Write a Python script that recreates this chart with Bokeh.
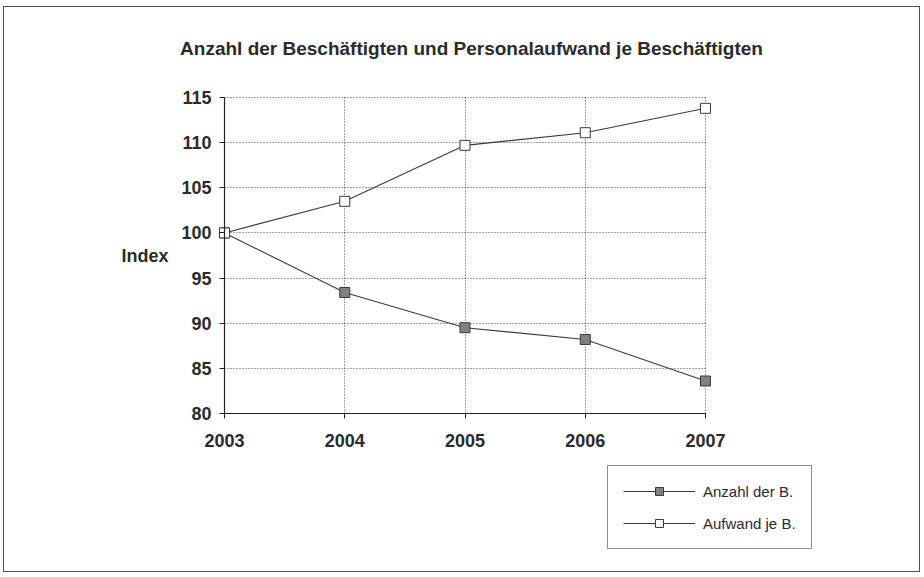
from bokeh.plotting import figure
from bokeh.layouts import column
from bokeh.models import Range1d, Legend, LegendItem, FixedTicker, Label, Grid
from bokeh.embed import file_html
from bokeh.resources import INLINE

# Index values (2003 = 100)
years = [2003, 2004, 2005, 2006, 2007]
anzahl = [100.0, 93.4, 89.5, 88.2, 83.6]
aufwand = [100.0, 103.5, 109.7, 111.1, 113.8]
y_ticks = [80, 85, 90, 95, 100, 105, 110, 115]
title_text = "Anzahl der Beschäftigten und Personalaufwand je Beschäftigten"
series_names = ["Anzahl der B.", "Aufwand je B."]

FONT = "Liberation Sans"
TEXT = "#2b2b2b"
LINE = "#3a3a3a"
AXIS = "#222222"

# ---- chart: a wide frame, y axis pinned to the first year ----
p = figure(
    width=915, height=452,
    x_range=Range1d(2002.1268, 2008.7796),
    y_range=Range1d(78.7816, 124.968),
    output_backend="svg", toolbar_location=None,
    min_border_left=115, min_border_right=0,
    min_border_top=0, min_border_bottom=35,
    background_fill_color="white", border_fill_color="white",
)
p.outline_line_color = None

# x axis labels and ticks (the ticks reach up to the 80 line)
xa = p.xaxis[0]
xa.ticker = FixedTicker(ticks=years)
xa.bounds = (2003, 2007)
xa.axis_line_color = None
xa.major_tick_line_color = AXIS
xa.major_tick_in = 11
xa.major_tick_out = -6
xa.minor_tick_line_color = None
xa.major_label_standoff = 9
xa.major_label_text_font = FONT
xa.major_label_text_font_style = "bold"
xa.major_label_text_font_size = "18px"
xa.major_label_text_color = TEXT

# y axis drawn at 2003
ya = p.yaxis[0]
ya.fixed_location = 2003
ya.ticker = FixedTicker(ticks=y_ticks)
ya.bounds = (80, 115)
ya.axis_line_color = AXIS
ya.axis_line_width = 1.2
ya.major_tick_line_color = AXIS
ya.major_tick_in = 0
ya.major_tick_out = 5
ya.minor_tick_line_color = None
ya.major_label_standoff = 8
ya.major_label_text_font = FONT
ya.major_label_text_font_style = "bold"
ya.major_label_text_font_size = "18px"
ya.major_label_text_color = TEXT
ya.axis_label = "Index"
ya.axis_label_orientation = "horizontal"
ya.axis_label_text_font = FONT
ya.axis_label_text_font_style = "bold"
ya.axis_label_text_font_size = "18px"
ya.axis_label_text_color = TEXT
ya.axis_label_standoff = 10

# dotted grid limited to the data area
xg, yg = p.xgrid[0], p.ygrid[0]
xg.ticker = FixedTicker(ticks=years)
xg.cross_bounds = (80, 115)
yg.ticker = FixedTicker(ticks=y_ticks[1:])
yg.cross_bounds = (2003, 2007)
for g in (xg, yg):
    g.grid_line_color = "#444444"
    g.grid_line_dash = "1 2"
    g.grid_line_width = 1

# solid base line at the lowest tick
p.add_layout(Grid(dimension=1, ticker=FixedTicker(ticks=y_ticks[:1]),
                  cross_bounds=(2003, 2007), grid_line_color=AXIS,
                  grid_line_width=1.2))

# series
def draw_series(fig, ys, fill):
    ln = fig.line(years, ys, line_color=LINE, line_width=1.1)
    mk = fig.scatter(years, ys, marker="square", size=10,
                     fill_color=fill, line_color="#3a3a3a", line_width=1)
    return [ln, mk]

draw_series(p, anzahl, "#808080")
draw_series(p, aufwand, "white")

# chart title
p.add_layout(Label(
    x=2005.054, y=120.43, text=title_text,
    text_font=FONT, text_font_style="bold", text_font_size="19px",
    text_color=TEXT, text_align="center", text_baseline="middle",
))

# ---- legend strip under the chart ----
leg = figure(
    width=915, height=112,
    x_range=Range1d(0, 1), y_range=Range1d(0, 1),
    output_backend="svg", toolbar_location=None,
    x_axis_location=None, y_axis_location=None,
    min_border_left=0, min_border_right=0, min_border_top=0, min_border_bottom=0,
    background_fill_color="white", border_fill_color="white",
)
leg.outline_line_color = None
leg.grid.visible = False

r1 = draw_series(leg, anzahl, "#808080")
r2 = draw_series(leg, aufwand, "white")

legend = Legend(
    items=[LegendItem(label=series_names[0], renderers=r1),
           LegendItem(label=series_names[1], renderers=r2)],
    location=(488, 22),
    orientation="vertical",
    border_line_color=AXIS, border_line_width=1,
    background_fill_color="white", background_fill_alpha=1,
    label_text_font=FONT, label_text_font_size="15px",
    label_text_color=TEXT,
    glyph_width=72, glyph_height=20, label_height=20,
    label_standoff=8, spacing=12, padding=15, margin=0,
)
leg.add_layout(legend, "center")

layout = column(p, leg, margin=(7, 5, 6, 4), spacing=0,
                styles={"outline": "1.5px solid #505050"})

open("out.html", "w").write(file_html(layout, INLINE))
